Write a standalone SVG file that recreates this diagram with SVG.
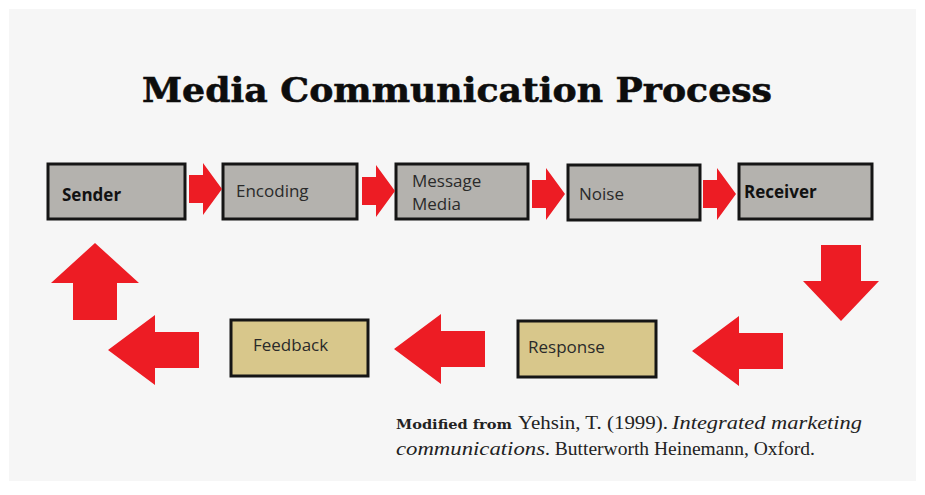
<svg xmlns="http://www.w3.org/2000/svg" width="925" height="495" viewBox="0 0 925 495">
<defs>
<style>
.box{stroke:#151515;stroke-width:3}
.gray{fill:#b4b2ae}
.tan{fill:#d8c78b}
.arr{fill:#ed1c24}
.lbl{font-family:"Open Sans","Liberation Sans",sans-serif;font-size:17px;fill:#2a2a2a}
.b{font-weight:bold;fill:#111}
.cite{font-family:"Liberation Serif","Times New Roman",serif;font-size:19px;fill:#222}
</style>
<path id="ra" d="M0,-14 H14 V-26 L33,0 L14,26 V14 H0 Z"/>
<path id="la" d="M0,0 L47,-35 V-18 H91 V18 H47 V35 Z"/>
</defs>
<rect x="0" y="0" width="925" height="495" fill="#ffffff"/>
<rect x="9" y="9" width="907" height="472" fill="#f6f6f6"/>
<text x="142" y="102" font-family="DejaVu Serif,Liberation Serif,serif" font-weight="bold" font-size="34" fill="#0d0d0d" stroke="#0d0d0d" stroke-width="0.6" textLength="630" lengthAdjust="spacingAndGlyphs">Media Communication Process</text>
<g id="sender"><rect class="box gray" x="48" y="164" width="137" height="55"/><text class="lbl b" x="62" y="201">Sender</text></g>
<g id="encoding"><rect class="box gray" x="223" y="164" width="134" height="55"/><text class="lbl" x="236" y="197">Encoding</text></g>
<g id="message-media"><rect class="box gray" x="396" y="164" width="132" height="55"/><text class="lbl" x="412" y="187">Message</text><text class="lbl" x="412" y="210">Media</text></g>
<g id="noise"><rect class="box gray" x="568" y="165" width="132" height="55"/><text class="lbl" x="579" y="200">Noise</text></g>
<g id="receiver"><rect class="box gray" x="739" y="164" width="133" height="55"/><text class="lbl b" x="744" y="198">Receiver</text></g>
<g id="response"><rect class="box tan" x="518" y="321" width="138" height="56"/><text class="lbl" x="528" y="353">Response</text></g>
<g id="feedback"><rect class="box tan" x="231" y="320" width="137" height="56"/><text class="lbl" x="253" y="351">Feedback</text></g>
<g id="connectors" class="arr">
<use href="#ra" x="189" y="189"/>
<use href="#ra" x="362" y="191"/>
<use href="#ra" x="532" y="194"/>
<use href="#ra" x="703" y="194"/>
<path d="M821,245 H861 V281 H879 L841,321 L803,281 H821 Z"/>
<use href="#la" x="692" y="351"/>
<use href="#la" x="394" y="349"/>
<use href="#la" x="108" y="350"/>
<path d="M95,243 L139,283 H117 V320 H73 V283 H51 Z"/>
</g>
<g id="citation" class="cite">
<text x="396" y="429" font-family="DejaVu Serif,serif" font-weight="bold" font-size="12" textLength="116" lengthAdjust="spacingAndGlyphs">Modified from</text>
<text x="518" y="429" textLength="150" lengthAdjust="spacingAndGlyphs">Yehsin, T. (1999).</text>
<text x="672" y="429" font-style="italic" textLength="190" lengthAdjust="spacingAndGlyphs">Integrated marketing</text>
<text x="396" y="455" font-style="italic" textLength="149" lengthAdjust="spacingAndGlyphs">communications</text>
<text x="545" y="455" textLength="270" lengthAdjust="spacingAndGlyphs">. Butterworth Heinemann, Oxford.</text>
</g>
</svg>
